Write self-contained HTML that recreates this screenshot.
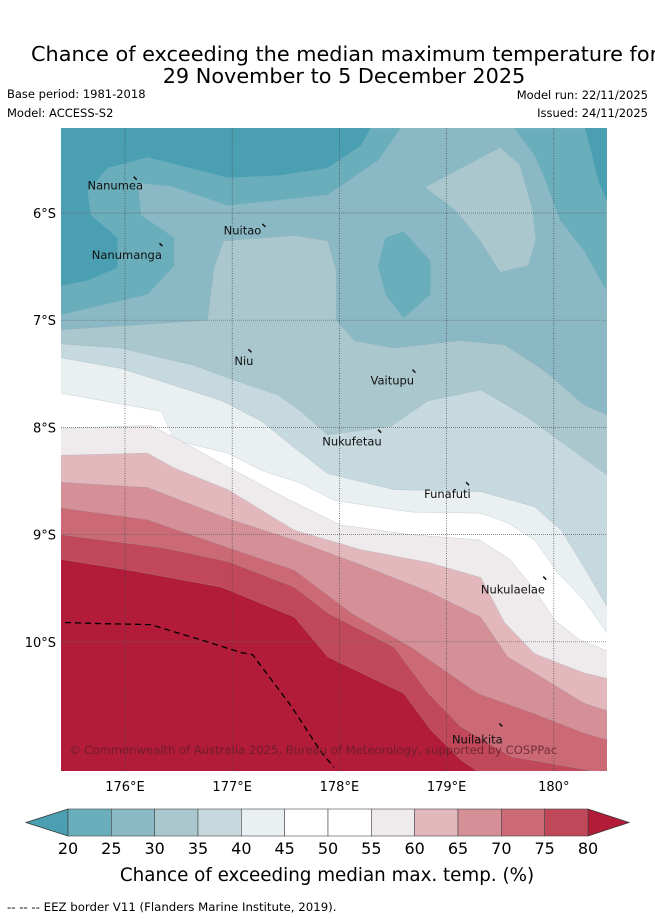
<!DOCTYPE html>
<html><head><meta charset="utf-8"><style>
html,body{margin:0;padding:0;background:#fff;}
svg{display:block;font-family:"DejaVu Sans","Liberation Sans",sans-serif;}
</style></head><body>
<svg id="chart" width="655" height="919" viewBox="0 0 655 919">
<text x="31" y="61" font-size="20.8" fill="#000">Chance of exceeding the median maximum temperature for</text>
<text x="344" y="83" font-size="20.8" text-anchor="middle" fill="#000">29 November to 5 December 2025</text>
<text x="7" y="98" font-size="11.5">Base period: 1981-2018</text>
<text x="7" y="117" font-size="11.5">Model: ACCESS-S2</text>
<text x="648" y="99" font-size="11.5" text-anchor="end">Model run: 22/11/2025</text>
<text x="648" y="117" font-size="11.5" text-anchor="end">Issued: 24/11/2025</text>
<defs><clipPath id="mapclip"><rect x="61" y="128" width="546" height="643"/></clipPath></defs>
<g id="map" clip-path="url(#mapclip)"></g>
<g id="axes"></g>
<g id="cbar"></g>
<text x="327" y="881" font-size="18.3" text-anchor="middle">Chance of exceeding median max. temp. (%)</text>
<text x="7" y="911" font-size="11.75">-- -- -- EEZ border V11 (Flanders Marine Institute, 2019).</text>
</svg>
<script>
const levels=[20,25,30,35,40,45,50,55,60,65,70,75,80];
const bandColors=["#6aaebb","#8ab8c4","#a9c7cc","#c6d9de","#eaeff2","#ffffff","#ffffff","#efebed","#e2b8bd","#d58f97","#cb6a74","#c04858"];
const underColor="#4aa0b2", overColor="#b21c38";
const lonTicks=[176,177,178,179,180];
const latTicks=[6,7,8,9,10];
// contour geometry [lon E, lat S]
const m20a=[[175.40,5.21],[178.57,5.21],[178.36,5.51],[177.89,5.83],[176.96,5.93],[176.43,5.75],[176.12,5.72],[176.15,6.02],[176.46,6.23],[176.46,6.49],[176.21,6.76],[175.40,6.95]];
const m20b=[[179.63,5.21],[180.29,5.21],[180.34,5.39],[180.41,5.69],[180.49,5.88],[180.49,6.72],[180.28,6.35],[180.06,6.07],[179.92,5.69],[179.82,5.46]];
const m20c=[[178.60,6.17],[178.85,6.45],[178.85,6.76],[178.60,6.98],[178.43,6.76],[178.36,6.49],[178.43,6.23]];
const dark1=[[175.40,5.10],[178.29,5.10],[178.29,5.21],[178.20,5.37],[177.89,5.58],[177.43,5.65],[176.96,5.67],[176.21,5.48],[175.84,5.58],[175.65,5.79],[175.68,6.02],[175.93,6.23],[175.93,6.51],[175.65,6.63],[175.40,6.68]];
const dark2=[[180.29,5.10],[180.6,5.10],[180.6,5.88],[180.49,5.88],[180.41,5.69],[180.34,5.39],[180.29,5.21]];
const isl30=[[178.80,5.76],[179.50,5.39],[179.68,5.55],[179.80,5.97],[179.83,6.25],[179.76,6.49],[179.50,6.55],[179.31,6.25],[179.08,5.97]];
const b30=[[175.40,7.09],[176.77,7.00],[176.83,6.51],[176.92,6.26],[177.58,6.21],[177.89,6.26],[177.97,6.54],[177.97,7.00],[178.14,7.19],[178.51,7.26],[179.13,7.19],[179.54,7.23],[179.91,7.47],[180.28,7.79],[180.49,7.88]];
const b35=[[175.40,7.22],[175.96,7.26],[176.64,7.42],[177.02,7.56],[177.43,7.70],[177.64,7.85],[177.89,8.07],[178.48,7.99],[178.83,7.75],[179.32,7.65],[179.76,7.91],[180.49,8.44]];
const b40=[[175.40,7.35],[175.96,7.45],[176.34,7.57],[176.90,7.75],[177.27,7.94],[177.58,8.19],[177.89,8.43],[178.51,8.58],[179.32,8.60],[179.82,8.74],[180.07,8.96],[180.28,9.30],[180.49,9.66]];
const b45=[[175.40,7.68],[176.34,7.85],[176.46,8.12],[176.96,8.24],[177.27,8.40],[177.64,8.52],[177.95,8.68],[178.67,8.79],[179.32,8.80],[179.57,8.89],[179.82,9.05],[180.04,9.36],[180.28,9.61],[180.49,9.91]];
const b55=[[175.40,8.01],[176.24,7.98],[176.51,8.12],[176.98,8.38],[177.54,8.68],[178.01,8.91],[178.66,9.00],[179.31,9.05],[179.59,9.23],[179.82,9.51],[180.01,9.80],[180.24,9.98],[180.49,10.08]];
const b60=[[175.40,8.26],[176.21,8.24],[176.46,8.38],[176.96,8.58],[177.58,8.96],[178.20,9.14],[178.83,9.26],[179.32,9.40],[179.54,9.82],[179.82,10.11],[180.28,10.29],[180.49,10.34]];
const b65=[[175.40,8.51],[176.21,8.56],[176.96,8.85],[177.58,9.05],[178.20,9.28],[178.83,9.53],[179.32,9.77],[179.57,10.14],[179.82,10.29],[180.28,10.57],[180.49,10.64]];
const b70=[[175.40,8.75],[176.21,8.86],[176.96,9.12],[177.58,9.33],[178.11,9.73],[178.67,10.05],[179.29,10.48],[179.82,10.67],[180.28,10.85],[180.49,10.91]];
const b75=[[175.40,9.00],[176.34,9.12],[176.96,9.25],[177.58,9.49],[177.89,9.73],[178.51,10.05],[178.83,10.48],[179.13,10.79],[179.60,11.07],[180.28,11.19],[180.49,11.24]];
const b80=[[175.40,9.23],[176.03,9.33],[176.90,9.49],[177.58,9.77],[177.89,10.14],[178.60,10.48],[178.85,10.82],[179.13,11.10],[179.29,11.21],[179.33,11.30]];
const eez=[[175.44,9.82],[175.77,9.83],[176.24,9.84],[176.47,9.91],[176.80,10.01],[177.08,10.10],[177.19,10.12],[177.55,10.60],[177.83,11.03],[177.95,11.17]];
const islandNames=["Nanumea","Nuitao","Nanumanga","Niu","Vaitupu","Nukufetau","Funafuti","Nukulaelae","Nuilakita"];
const islandLon=[176.10,177.30,176.34,177.17,178.70,178.38,179.20,179.92,179.51];
const islandLat=[5.68,6.12,6.30,7.29,7.48,8.04,8.53,9.41,10.78];
const labelLon=[175.65,176.92,175.69,177.02,178.29,177.84,178.79,179.32,179.05];
const labelLat=[5.78,6.20,6.43,7.42,7.60,8.17,8.66,9.55,10.95];

const NS="http://www.w3.org/2000/svg";
const X=lon=>125+(lon-176)*107.2;
const Y=lat=>213+(lat-6)*107.2;
function el(tag,attrs,parent){const e=document.createElementNS(NS,tag);for(const k in attrs)e.setAttribute(k,attrs[k]);parent.appendChild(e);return e;}
const map=document.getElementById('map');
const pts=a=>a.map(p=>X(p[0]).toFixed(1)+','+Y(p[1]).toFixed(1)).join(' ');
function closedPoly(a,fill,name){const p=el('polygon',{points:pts(a),fill:fill,stroke:'none'},map);

}
function band(a,fill,name){const f=a[0],l=a[a.length-1];
const full=a.concat([[180.7,l[1]],[180.7,11.5],[175.2,11.5],[175.2,f[1]]]);
const p=el('polygon',{points:pts(full),fill:fill,stroke:'rgba(150,170,180,0.5)','stroke-width':0.5},map);

}
const bg=el('rect',{x:61,y:128,width:546,height:643,fill:bandColors[1]},map);


closedPoly(m20a,bandColors[0],'band-20-25-northwest');
closedPoly(m20b,bandColors[0],'band-20-25-northeast');
closedPoly(m20c,bandColors[0],'band-20-25-patch');
closedPoly(dark1,underColor,'band-below-20-northwest');
closedPoly(dark2,underColor,'band-below-20-northeast');
closedPoly(isl30,bandColors[2],'band-30-35-patch');
band(b30,bandColors[2],'band-30-35');
band(b35,bandColors[3],'band-35-40');
band(b40,bandColors[4],'band-40-45');
band(b45,bandColors[5],'band-45-55');
band(b55,bandColors[7],'band-55-60');
band(b60,bandColors[8],'band-60-65');
band(b65,bandColors[9],'band-65-70');
band(b70,bandColors[10],'band-70-75');
band(b75,bandColors[11],'band-75-80');
band(b80,overColor,'band-above-80');
lonTicks.forEach(t=>{const g=el('line',{x1:X(t),x2:X(t),y1:128,y2:771,stroke:'#444','stroke-width':0.7,'stroke-dasharray':'1,1.5'},map);

});
latTicks.forEach(t=>{const g=el('line',{x1:61,x2:607,y1:Y(t),y2:Y(t),stroke:'#666','stroke-width':0.7,'stroke-dasharray':'1,1'},map);

});
const ez=el('polyline',{points:pts(eez),fill:'none',stroke:'#000','stroke-width':1.3,'stroke-dasharray':'6,4'},map);


islandNames.forEach((n,i)=>{const m=el('line',{x1:X(islandLon[i])-2,y1:Y(islandLat[i])-2,x2:X(islandLon[i])+1,y2:Y(islandLat[i])+1,stroke:'#111','stroke-width':1.5},map);


const t=el('text',{x:X(labelLon[i]),y:Y(labelLat[i]),'font-size':11.5,fill:'#111'},map);t.textContent=n;

});
const cp=el('text',{x:69,y:754,'font-size':11.6,fill:'rgba(90,30,40,0.75)'},map);cp.textContent='© Commonwealth of Australia 2025, Bureau of Meteorology, supported by COSPPac';


const axes=document.getElementById('axes');
lonTicks.forEach(t=>{const s=el('text',{x:X(t),y:791,'font-size':13,'text-anchor':'middle'},axes);s.textContent=t+'°E';if(t===180)s.textContent='180°';

});
latTicks.forEach(t=>{const s=el('text',{x:56,y:Y(t)+5,'font-size':13,'text-anchor':'end'},axes);s.textContent=t+'°S';

});
const cb=document.getElementById('cbar');
const cx0=68,cx1=588,cy=809,ch=27,sw=(cx1-cx0)/(levels.length-1);
const lt=el('polygon',{points:`${cx0},${cy} ${cx0},${cy+ch} 26,${cy+ch/2}`,fill:underColor,stroke:'#333','stroke-width':0.8},cb);


const rt=el('polygon',{points:`${cx1},${cy} ${cx1},${cy+ch} 629,${cy+ch/2}`,fill:overColor,stroke:'#333','stroke-width':0.8},cb);


bandColors.forEach((c,i)=>{const r=el('rect',{x:cx0+i*sw,y:cy,width:sw,height:ch,fill:c,stroke:'#444','stroke-width':0.6},cb);

});
levels.forEach((v,i)=>{const t=el('text',{x:cx0+i*sw,y:854,'font-size':16,'text-anchor':'middle'},cb);t.textContent=v;

});
</script>
</body></html>
